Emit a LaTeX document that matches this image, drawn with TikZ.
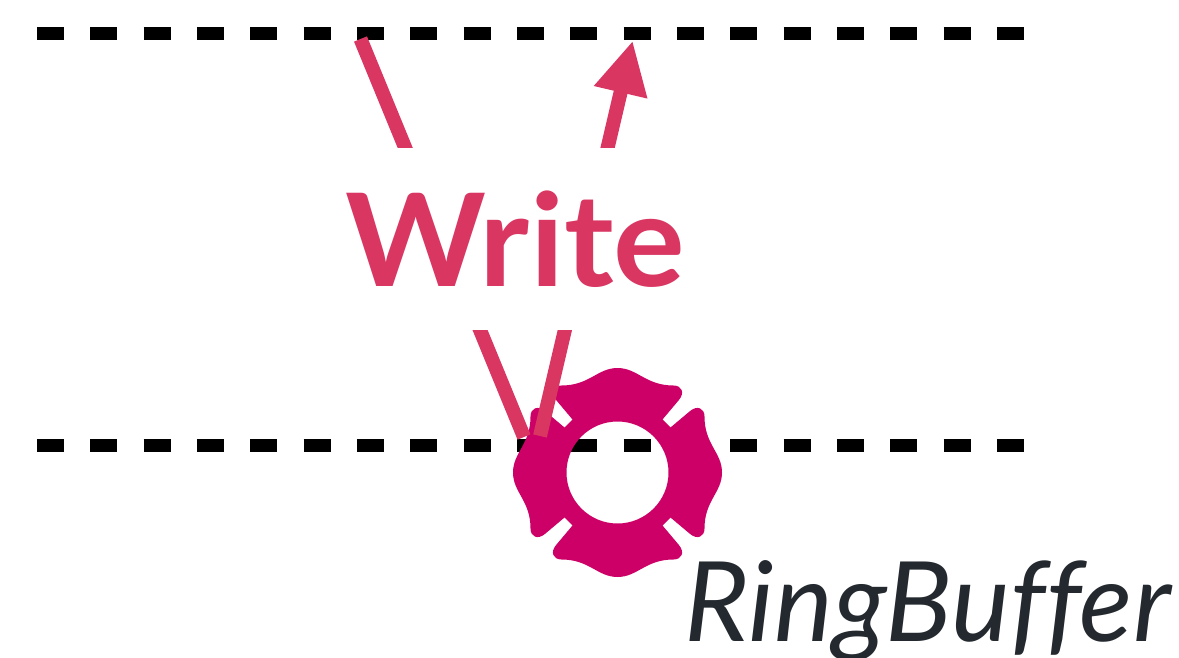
\documentclass[tikz,border=0pt]{standalone}
\usepackage{fontspec}
\setmainfont{Lato}
\usetikzlibrary{arrows.meta}
\definecolor{rose}{HTML}{D93662}
\definecolor{emblem}{HTML}{CC0066}
\definecolor{slate}{HTML}{23292E}
\tikzset{
  lane/.style={line width=13.5pt,black,dash pattern=on 27pt off 26.33pt},
  link/.style={line width=14pt,rose},
  writelabel/.style={fill=white,inner sep=0pt,minimum height=182pt,minimum width=345pt,text=rose,font=\fontsize{129}{129}\selectfont\bfseries\addfontfeature{FakeStretch=1.04}},
  ringlabel/.style={inner sep=0pt,anchor=base west,text=slate,font=\fontsize{111}{111}\selectfont\itshape\addfontfeature{Ligatures=CommonOff}}
}
\begin{document}
\begin{tikzpicture}[x=1pt,y=-1pt]
\useasboundingbox (0,0) rectangle (1179,658);
\coordinate (lane1a) at (37,33.5);
\coordinate (lane1b) at (1025,33.5);
\coordinate (lane2a) at (37,445.5);
\coordinate (lane2b) at (1025,445.5);
\draw[lane] (lane1a) -- (lane1b);
\draw[lane] (lane2a) -- (lane2b);
\begin{scope}[shift={(617.5,472.5)}]
\fill[emblem,even odd rule]
 (0,-104.5) .. controls (20,-104.5) and (28,-87) .. (56,-87) .. controls (64,-87) and (68,-80) .. (61,-72) -- (45,-53) -- (53,-45) -- (72,-61) .. controls (80,-68) and (87,-64) .. (87,-56) .. controls (87,-28) and (104.5,-20) .. (104.5,0)
 .. controls (104.5,20) and (87,28) .. (87,56) .. controls (87,64) and (80,68) .. (72,61) -- (53,45) -- (45,53) -- (61,72) .. controls (68,80) and (64,87) .. (56,87) .. controls (28,87) and (20,104.5) .. (0,104.5)
 .. controls (-20,104.5) and (-28,87) .. (-56,87) .. controls (-64,87) and (-68,80) .. (-61,72) -- (-45,53) -- (-53,45) -- (-72,61) .. controls (-80,68) and (-87,64) .. (-87,56) .. controls (-87,28) and (-104.5,20) .. (-104.5,0)
 .. controls (-104.5,-20) and (-87,-28) .. (-87,-56) .. controls (-87,-64) and (-80,-68) .. (-72,-61) -- (-53,-45) -- (-45,-53) -- (-61,-72) .. controls (-68,-80) and (-64,-87) .. (-56,-87) .. controls (-28,-87) and (-20,-104.5) .. (0,-104.5) -- cycle
 (51,0) arc[start angle=0,end angle=360,radius=51];
\end{scope}
\coordinate (from) at (360.5,39);
\coordinate (down) at (524,437);
\coordinate (up) at (540,436);
\coordinate (to) at (632.7,40.7);
\draw[link] (from) -- (down);
\draw[link,-{Triangle[length=53pt,width=51pt]}] (up) -- (to);
\node[writelabel] (write) at (515,239) {\raisebox{-2pt}{Write}};
\node[ringlabel] (ring) at (684.5,641.5) {RingBuffer};
\end{tikzpicture}
\end{document}
